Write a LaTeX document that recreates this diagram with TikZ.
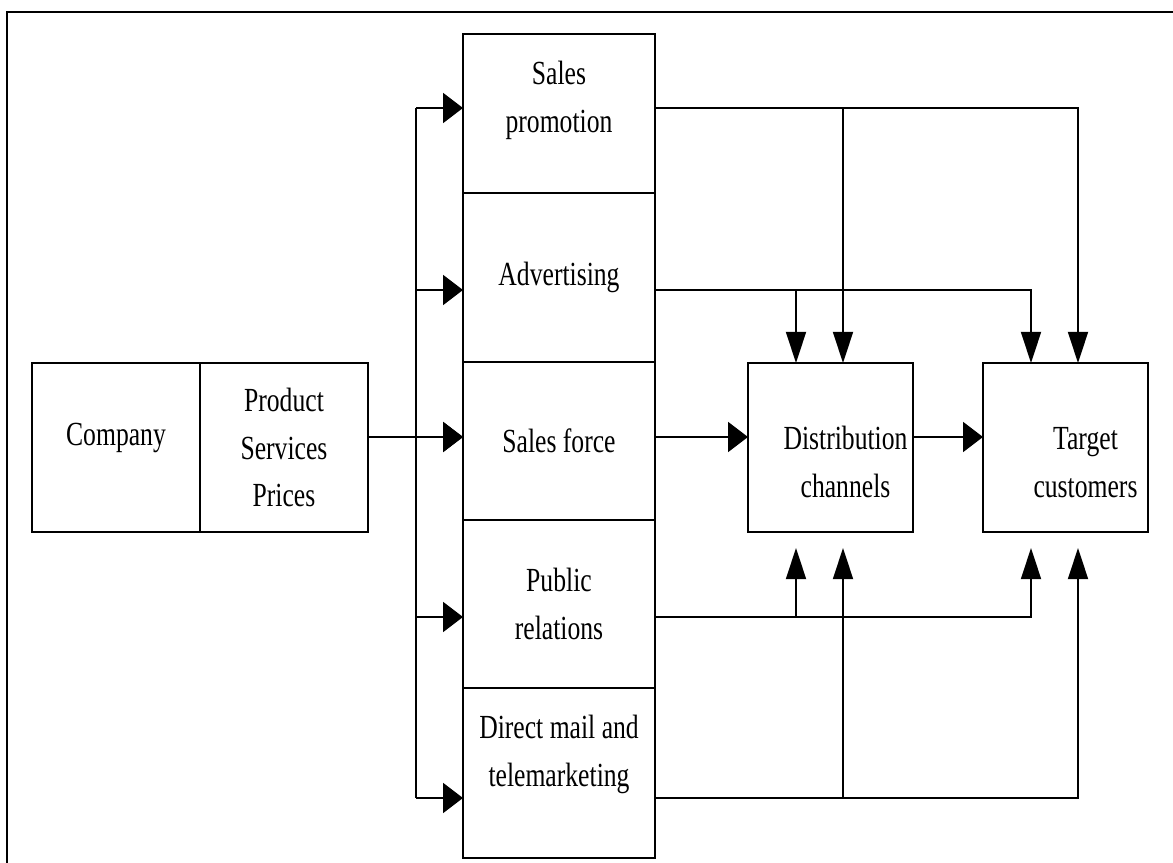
\documentclass[tikz,border=0pt]{standalone}
\usepackage{fontspec}
\setmainfont[FakeStretch=0.76]{Liberation Serif}
\usetikzlibrary{arrows.meta,positioning}

\begin{document}
\begin{tikzpicture}[
  box/.style={rectangle, draw, line width=1.4pt, outer sep=0pt, minimum width=#1, align=center, font=\fontsize{24}{34}\selectfont},
  wire/.style={line width=1.4pt},
  harr/.style={-{Triangle[length=0.5cm, width=0.75cm]}, line width=1.4pt},
  varr/.style={-{Triangle[length=0.78cm, width=0.5cm]}, line width=1.4pt}
]
  \useasboundingbox (0,0) rectangle (29.325,-21.575);
  % outer frame
  \draw[line width=1.5pt] (0.175,-22) -- (0.175,-0.3) -- (29.6,-0.3);

  % company and its offer
  \node[box=4.2cm, minimum height=4.225cm] (company) at (2.9,-11.1875) {Company\rule[-0.65cm]{0pt}{0pt}};
  \node[box=4.2cm, minimum height=4.225cm, right=0pt of company] (offer) {Product\\Services\\Prices};

  % promotion mix
  \node[box=4.8cm, minimum height=3.975cm] (promo) at (13.975,-2.8375) {Sales\\promotion\rule[-0.82cm]{0pt}{0pt}};
  \node[box=4.8cm, minimum height=4.225cm, below=0pt of promo] (advert) {Advertising};
  \node[box=4.8cm, minimum height=3.95cm, below=0pt of advert] (force) {Sales force};
  \node[box=4.8cm, minimum height=4.2cm, below=0pt of force] (pr) {Public\\relations};
  \node[box=4.8cm, minimum height=4.25cm, below=0pt of pr] (mail) {Direct mail and\\telemarketing\rule[-1.1cm]{0pt}{0pt}};

  % receivers
  \node[box=4.125cm, minimum height=4.225cm] (channels) at (20.7625,-11.1875) {\rule{0pt}{1.3cm}\hspace*{0.75cm}Distribution\\\hspace*{0.75cm}channels};
  \node[box=4.125cm, minimum height=4.225cm] (target) at (26.6375,-11.1875) {\rule{0pt}{1.3cm}\hspace*{1cm}Target\\\hspace*{1cm}customers};

  % levels and drops
  \coordinate (bus) at (10.4,0);
  \coordinate (l1) at (0,-2.7);
  \coordinate (l2) at (0,-7.25);
  \coordinate (l3) at (0,-10.925);
  \coordinate (l4) at (0,-15.425);
  \coordinate (l5) at (0,-19.95);
  \coordinate (xa) at (19.9,0);
  \coordinate (xb) at (21.075,0);
  \coordinate (xc) at (25.775,0);
  \coordinate (xd) at (26.95,0);

  % feed into the mix
  \draw[wire] (bus |- l1) -- (bus |- l5);
  \draw[harr] (offer.east |- l3) -- (force.west |- l3);
  \foreach \r/\l in {promo/l1, advert/l2, force/l3, pr/l4, mail/l5}
    \draw[harr] (bus |- \l) -- (\r.west |- \l);

  % from above
  \draw[varr] (promo.east |- l1) -| (xd |- target.north);
  \draw[varr] (xb |- l1) -- (xb |- channels.north);
  \draw[varr] (advert.east |- l2) -| (xc |- target.north);
  \draw[varr] (xa |- l2) -- (xa |- channels.north);

  % middle
  \draw[harr] (force.east |- l3) -- (channels.west |- l3);
  \draw[harr] (channels.east |- l3) -- (target.west |- l3);

  % from below
  \draw[varr, shorten >=0.4cm] (pr.east |- l4) -| (xc |- target.south);
  \draw[varr, shorten >=0.4cm] (xa |- l4) -- (xa |- channels.south);
  \draw[varr, shorten >=0.4cm] (mail.east |- l5) -| (xd |- target.south);
  \draw[varr, shorten >=0.4cm] (xb |- l5) -- (xb |- channels.south);
\end{tikzpicture}
\end{document}
